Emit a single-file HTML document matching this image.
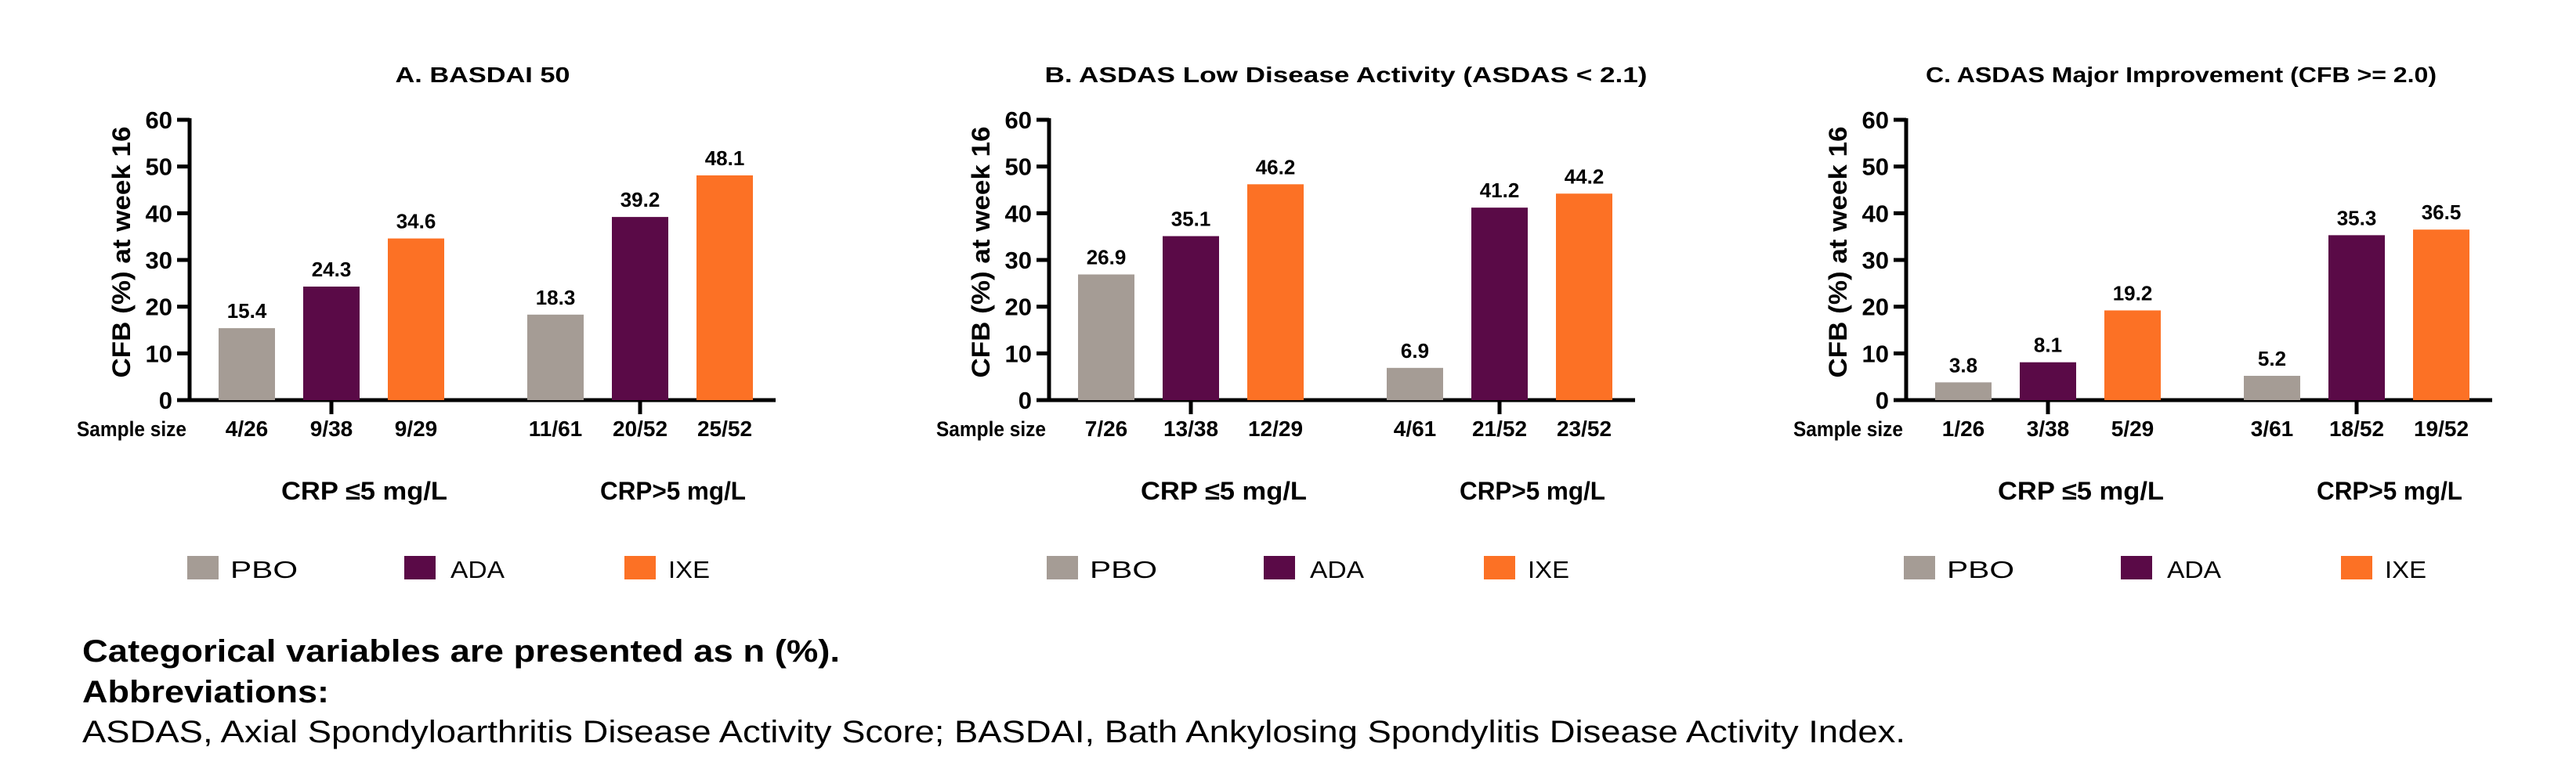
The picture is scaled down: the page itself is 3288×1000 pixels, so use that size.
<!DOCTYPE html>
<html><head><meta charset="utf-8"><style>
html,body{margin:0;padding:0;background:#fff;}
svg{display:block;font-family:"Liberation Sans",Arial,sans-serif;}
</style></head><body>
<svg id="fig" width="3288" height="1000" viewBox="0 0 3288 1000" xmlns="http://www.w3.org/2000/svg">
<rect width="3288" height="1000" fill="#fff"/>
<g id="charts"></g>
<text x="105" y="845" font-size="40" font-weight="bold" textLength="967" lengthAdjust="spacingAndGlyphs">Categorical variables are presented as n (%).</text>
<text x="105" y="897" font-size="40" font-weight="bold" textLength="315" lengthAdjust="spacingAndGlyphs">Abbreviations:</text>
<text x="105" y="948" font-size="40" textLength="2327" lengthAdjust="spacingAndGlyphs">ASDAS, Axial Spondyloarthritis Disease Activity Score; BASDAI, Bath Ankylosing Spondylitis Disease Activity Index.</text>
</svg>
<script>
const titles = ["A. BASDAI 50", "B. ASDAS Low Disease Activity  (ASDAS < 2.1)", "C. ASDAS Major Improvement (CFB >= 2.0)"];
const groups = ["CRP ≤5 mg/L", "CRP>5 mg/L"];
const seriesNames = ["PBO", "ADA", "IXE"];
const yTicks = [0, 10, 20, 30, 40, 50, 60];
// values[chart][series][group]
const pboValues = [[15.4, 18.3], [26.9, 6.9], [3.8, 5.2]];
const adaValues = [[24.3, 39.2], [35.1, 41.2], [8.1, 35.3]];
const ixeValues = [[34.6, 48.1], [46.2, 44.2], [19.2, 36.5]];
const pboSamples = [["4/26", "11/61"], ["7/26", "4/61"], ["1/26", "3/61"]];
const adaSamples = [["9/38", "20/52"], ["13/38", "21/52"], ["3/38", "18/52"]];
const ixeSamples = [["9/29", "25/52"], ["12/29", "23/52"], ["5/29", "19/52"]];

const colors = ["#a59c95", "#5a0a47", "#fc7125"];
const NS = "http://www.w3.org/2000/svg";
const root = document.getElementById("charts");
function mk(tag, attrs, parent, text) {
  const e = document.createElementNS(NS, tag);
  for (const k in attrs) e.setAttribute(k, attrs[k]);
  if (text !== undefined) e.textContent = text;
  parent.appendChild(e);
  return e;
}
const offsets = [0, 1097, 2191];
const titleW = [223, 769, 652];
const titleX = [616, 1718, 2784];
const y0 = 511, yTop = 153, yMax = 60;
function yScale(v) { return y0 - (v / yMax) * (y0 - yTop); }
function xBar(g, s) { return 279 + g * 394 + s * 108; }
const barW = 72;

for (let c = 0; c < 3; c++) {
  const ox = offsets[c];
  const g = mk("g", { transform: "translate(" + ox + ",0)" }, root);
  
  
  const vals = [pboValues[c], adaValues[c], ixeValues[c]];
  const samples = [pboSamples[c], adaSamples[c], ixeSamples[c]];
  const t = mk("text", { x: titleX[c] - ox, y: 105, "font-size": 28, "font-weight": "bold", "text-anchor": "middle", textLength: titleW[c], lengthAdjust: "spacingAndGlyphs" }, g, titles[c]);
  
  
  const ya = mk("line", { x1: 242, y1: yTop - 2, x2: 242, y2: y0 + 2, stroke: "#000", "stroke-width": 5 }, g);
  
  
  for (const tv of yTicks) {
    const yy = yScale(tv);
    const tk = mk("line", { x1: 226, y1: yy, x2: 242, y2: yy, stroke: "#000", "stroke-width": 5 }, g);
    
    
    const tl = mk("text", { x: 220, y: yy + 11, "font-size": 31, "font-weight": "bold", "text-anchor": "end" }, g, String(tv));
    
    
  }
  const yl = mk("text", { x: 0, y: 0, "font-size": 32, "font-weight": "bold", "text-anchor": "middle", transform: "translate(166,322) rotate(-90)", textLength: 321, lengthAdjust: "spacingAndGlyphs" }, g, "CFB (%) at week 16");
  
  
  const xa = mk("line", { x1: 240, y1: y0, x2: 990, y2: y0, stroke: "#000", "stroke-width": 5 }, g);
  
  
  const sl = mk("text", { x: 238, y: 557, "font-size": 27, "font-weight": "bold", "text-anchor": "end", textLength: 140, lengthAdjust: "spacingAndGlyphs" }, g, "Sample size");
  
  
  for (let gi = 0; gi < 2; gi++) {
    const cx = xBar(gi, 1) + barW / 2;
    const gt = mk("line", { x1: cx, y1: y0, x2: cx, y2: y0 + 18, stroke: "#000", "stroke-width": 5 }, g);
    
    
    const gl = mk("text", { x: cx + 42, y: 638, "font-size": 32, "font-weight": "bold", "text-anchor": "middle", textLength: gi === 0 ? 212 : 186, lengthAdjust: "spacingAndGlyphs" }, g, groups[gi]);
    
    
    for (let s = 0; s < 3; s++) {
      const v = vals[s][gi];
      const x = xBar(gi, s);
      const b = mk("rect", { x: x, y: yScale(v), width: barW, height: y0 - yScale(v), fill: colors[s] }, g);
      
      
      const vl = mk("text", { x: x + barW / 2, y: yScale(v) - 13, "font-size": 26, "font-weight": "bold", "text-anchor": "middle" }, g, v.toFixed(1));
      
      
      const sm = mk("text", { x: x + barW / 2, y: 557, "font-size": 28, "font-weight": "bold", "text-anchor": "middle" }, g, samples[s][gi]);
      
      
    }
  }
  const lx = [239, 516, 797];
  const tx = [294, 575, 853];
  const tw = [86, 69, 53];
  for (let s = 0; s < 3; s++) {
    const le = mk("g", {}, g);
    
    
    mk("rect", { x: lx[s], y: 710, width: 40, height: 30, fill: colors[s] }, le);
    mk("text", { x: tx[s], y: 738, "font-size": 31, textLength: tw[s], lengthAdjust: "spacingAndGlyphs" }, le, seriesNames[s]);
  }
}
</script>
</body></html>
